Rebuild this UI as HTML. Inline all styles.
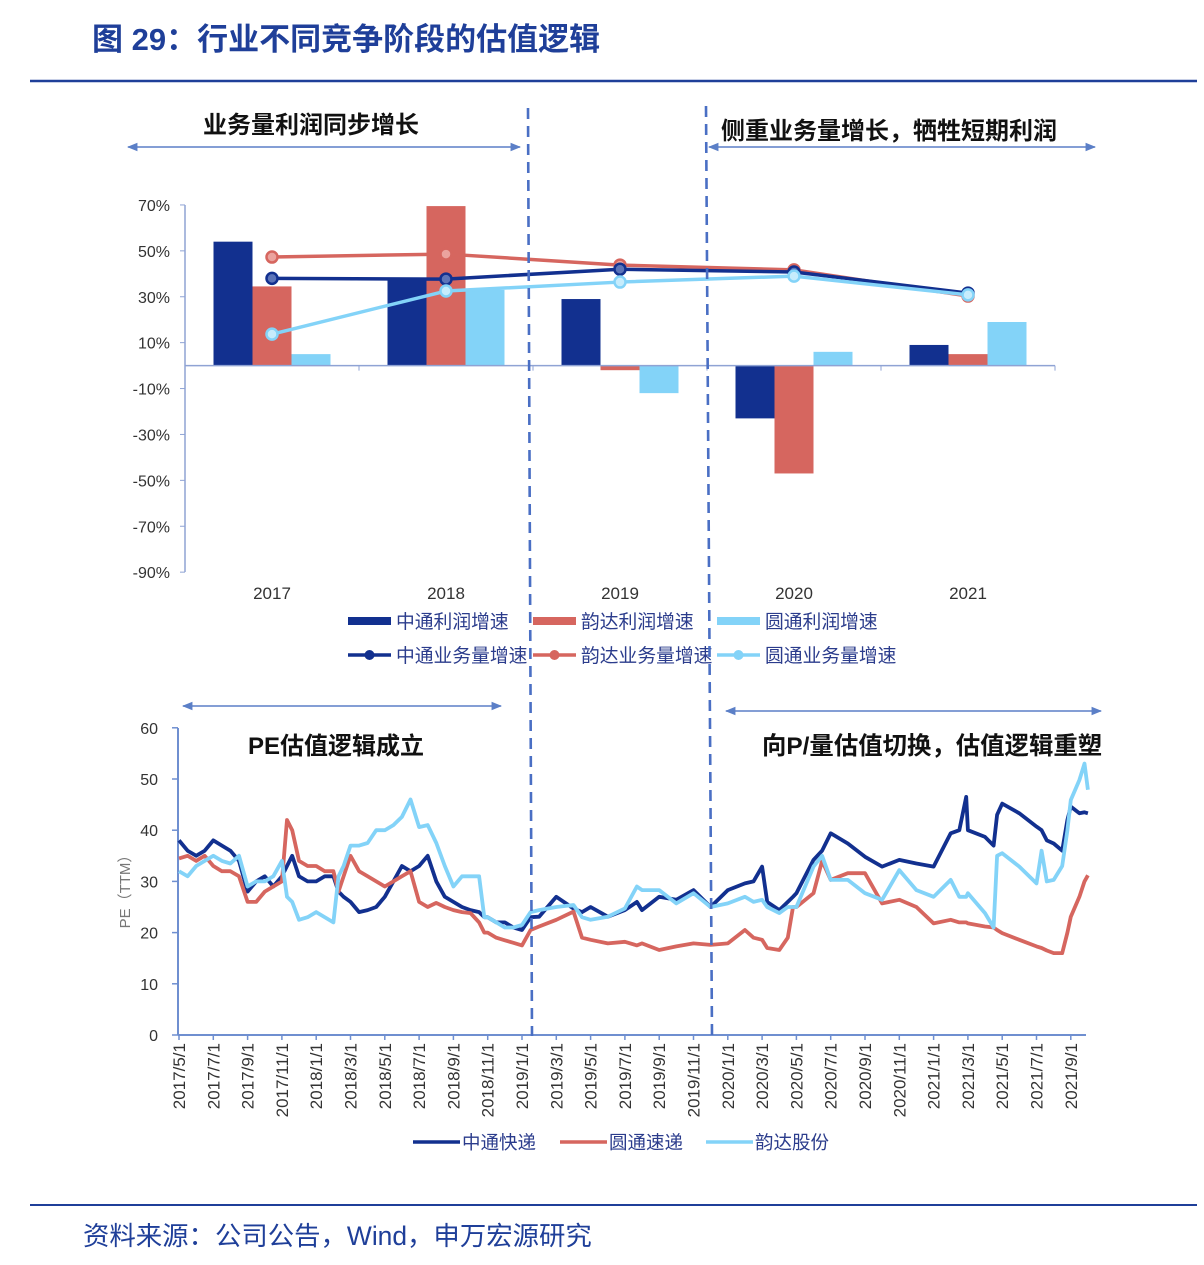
<!DOCTYPE html>
<html><head><meta charset="utf-8">
<style>
html,body{margin:0;padding:0;background:#fff;}
body{width:1204px;height:1265px;overflow:hidden;font-family:"Liberation Sans","Noto Sans CJK SC",sans-serif;}
svg{display:block;}
</style></head>
<body>
<svg id="chart" width="1204" height="1265" viewBox="0 0 1204 1265" xmlns="http://www.w3.org/2000/svg" font-family="Liberation Sans, Noto Sans CJK SC, sans-serif">
<defs>
<marker id="ah" viewBox="0 0 10 10" refX="9" refY="5" markerWidth="7" markerHeight="7" orient="auto-start-reverse"><path d="M0,1 L10,5 L0,9 z" fill="#5b7fc7"/></marker>
</defs>
<text x="92" y="50" font-size="31" font-weight="bold" fill="#1f3f99">图 29：行业不同竞争阶段的估值逻辑</text>
<line x1="30" y1="81" x2="1197" y2="81" stroke="#1f3f99" stroke-width="2.5"/>
<line x1="30" y1="1205" x2="1197" y2="1205" stroke="#1f3f99" stroke-width="2"/>
<text x="83" y="1245" font-size="26.4" fill="#1f3f99">资料来源：公司公告，Wind，申万宏源研究</text>

<g>
<line x1="128" y1="147" x2="520" y2="147" stroke="#5b7fc7" stroke-width="1.5" marker-start="url(#ah)" marker-end="url(#ah)"/>
<line x1="709" y1="147" x2="1095" y2="147" stroke="#5b7fc7" stroke-width="1.5" marker-start="url(#ah)" marker-end="url(#ah)"/>
<line x1="183" y1="706" x2="501" y2="706" stroke="#5b7fc7" stroke-width="1.5" marker-start="url(#ah)" marker-end="url(#ah)"/>
<line x1="726" y1="711" x2="1101" y2="711" stroke="#5b7fc7" stroke-width="1.5" marker-start="url(#ah)" marker-end="url(#ah)"/>
<text x="203" y="133" font-size="24" font-weight="bold" fill="#111">业务量利润同步增长</text>
<text x="721" y="139" font-size="24" font-weight="bold" fill="#111">侧重业务量增长，牺牲短期利润</text>
<text x="248" y="754" font-size="24" font-weight="bold" fill="#111">PE估值逻辑成立</text>
<text x="762" y="754" font-size="24.4" font-weight="bold" fill="#111">向P/量估值切换，估值逻辑重塑</text>
</g>

<g id="topchart"></g>
<g id="botchart"></g>

<line x1="528" y1="108" x2="532" y2="1036" stroke="#4a6fc4" stroke-width="2.6" stroke-dasharray="11,7"/>
<line x1="706" y1="106" x2="712" y2="1036" stroke="#4a6fc4" stroke-width="2.6" stroke-dasharray="11,7"/>
</svg>
<script>
// ---------- top chart data ----------
const years = ['2017','2018','2019','2020','2021'];
const ztProfit = [54, 38, 29, -23, 9];
const ydProfit = [34.5, 69.5, -2, -47, 5];
const ytProfit = [5, 33, -12, 6, 19];
const ztVolume = [38, 37.7, 42, 40.8, 31.6];
const ydVolume = [47.3, 48.6, 43.8, 41.7, 30.3];
const ytVolume = [13.7, 32.5, 36.4, 39, 30.8];
const pctTicks = [70, 50, 30, 10, -10, -30, -50, -70, -90];

// ---------- bottom chart data ----------
const monthLabels = ['2017/5/1','2017/7/1','2017/9/1','2017/11/1','2018/1/1','2018/3/1','2018/5/1','2018/7/1','2018/9/1','2018/11/1','2019/1/1','2019/3/1','2019/5/1','2019/7/1','2019/9/1','2019/11/1','2020/1/1','2020/3/1','2020/5/1','2020/7/1','2020/9/1','2020/11/1','2021/1/1','2021/3/1','2021/5/1','2021/7/1','2021/9/1'];
const peTicks = [0, 10, 20, 30, 40, 50, 60];
const months = [0,0.5,1,1.5,2,2.5,3,3.5,4,4.5,5,5.5,6,6.3,6.6,7,7.5,8,8.5,9,9.3,9.6,10,10.5,11,11.5,12,12.5,13,13.5,14,14.5,15,15.5,16,16.5,17,17.5,17.8,18,18.5,19,19.5,20,20.5,21,22,23,23.5,24,25,26,26.7,27,28,29,30,31,32,33,33.5,34,34.3,35,35.5,35.8,36,37,37.5,38,39,40,41,42,43,44,45,45.5,45.9,46,47,47.5,47.7,48,49,50,50.3,50.6,51,51.5,51.8,52,52.5,52.8,53];
const zto = [38,36,35,36,38,37,36,34,28,30,31,29,31,33,35,31,30,30,31,31,28,27,26,24,24.4,25,27,30,33,32,33,35,30,27,26,25,24.4,24,23,23,22,22,21,20.5,23,23.1,27,24.7,24,25,23.1,24.4,26,24.4,27,26.4,28.3,25,28.3,29.6,30,32.9,26,24.4,26,27,27.7,34.2,36,39.4,37.4,34.8,32.9,34.2,33.5,32.9,39.4,40,46.5,40,38.7,37,43,45.2,43.3,40.7,40,38,37.4,36,42,44.6,43.3,43.5,43.3];
const yto = [34.5,35,34,35,33,32,32,31,26,26,28,29,30,42,40,34,33,33,32,32,28,31,35,32,31,30,29,30,31,32,26,25,25.8,25,24.4,24,23.8,22,20,20,19,18.5,18,17.5,20.5,21.2,22.5,24.1,19,18.6,17.9,18.2,17.5,17.9,16.6,17.3,17.9,17.6,17.9,20.5,19,18.6,17,16.6,19,25,25,27.7,34,30.3,31.6,31.6,25.7,26.4,25,21.8,22.5,22,22,21.8,21.2,21,20.5,19.9,18.6,17.3,17,16.5,16,16,20,23.1,27,30,31.2];
const yunda = [32,31,33,34,35,34,33.5,35,29,30,30,31,34,27,26,22.5,23,24,23,22,31,33,37,37,37.5,40,40,41,42.6,46,40.6,41,37.5,33,29,31,31,31,23,23,22,21,21,21.5,24,24.4,25,25.4,23,22.5,23.1,24.7,29,28.3,28.3,25.7,27.7,25,25.7,27,26,26.4,25,23.8,25,25,25,32.9,35,30.3,30.3,27.7,26.4,32.2,28.3,27,30.3,27,27,27.7,23.8,21,35,35.5,32.9,29.6,36,30,30.3,33,40,45.9,49.8,53,47.9];

const NS = 'http://www.w3.org/2000/svg';
function mk(tag, attrs, parent, text){
  const e = document.createElementNS(NS, tag);
  for (const k in attrs) e.setAttribute(k, attrs[k]);
  if (text !== undefined) e.textContent = text;
  parent.appendChild(e);
  return e;
}

// ---------- top chart ----------
const topG = document.getElementById('topchart');
const tY0 = 365.6, tK = 2.295;
const ty = v => tY0 - v * tK;
const groupW = 174;
const tx = i => 185 + groupW * (i + 0.5);
const colors = {zt:'#12308f', yd:'#d6665f', yt:'#83d3f8'};
const tints = {zt:'#5c74b8', yd:'#eba39e', yt:'#c6ecfc'};

let ax = mk('line', {x1:185,y1:205,x2:185,y2:572,stroke:'#8fa3d4','stroke-width':1.5}, topG);


pctTicks.forEach(t => {
  const lb = mk('text', {x:170,y:ty(t)+6,'font-size':16,'text-anchor':'end',fill:'#333'}, topG, t + '%');
  
  
  const tk = mk('line', {x1:180,y1:ty(t),x2:185,y2:ty(t),stroke:'#8fa3d4','stroke-width':1}, topG);
  
  
});

const barW = 39;
const series = [['zt', ztProfit, -1], ['yd', ydProfit, 0], ['yt', ytProfit, 1]];
series.forEach(([k, vals, off]) => {
  vals.forEach((v, i) => {
    const cx = tx(i) + off * barW;
    const y1 = ty(Math.max(v, 0)), y2 = ty(Math.min(v, 0));
    const r = mk('rect', {x:cx - barW/2, y:y1, width:barW, height:Math.max(y2 - y1, 0.5), fill:colors[k]}, topG);
    
    
  });
});

let xa = mk('line', {x1:185,y1:tY0,x2:1055,y2:tY0,stroke:'#8fa3d4','stroke-width':1.5}, topG);


for (let i = 0; i <= years.length; i++) {
  const tk = mk('line', {x1:185 + groupW*i, y1:tY0, x2:185 + groupW*i, y2:tY0 + 5, stroke:'#8fa3d4','stroke-width':1}, topG);
  
  
}
years.forEach((yr, i) => {
  const lb = mk('text', {x:tx(i), y:599, 'font-size':17, 'text-anchor':'middle', fill:'#333'}, topG, yr);
  
  
});

const lines = [['yd', ydVolume], ['zt', ztVolume], ['yt', ytVolume]];
lines.forEach(([k, vals]) => {
  const pts = vals.map((v, i) => tx(i) + ',' + ty(v)).join(' ');
  const pl = mk('polyline', {points:pts, fill:'none', stroke:colors[k], 'stroke-width':3.5, 'stroke-linejoin':'round'}, topG);
  
  
  vals.forEach((v, i) => {
    const c = mk('circle', {cx:tx(i), cy:ty(v), r:5.5, fill:tints[k], stroke:colors[k], 'stroke-width':2.5}, topG);
    
    
  });
});

const legTop = [
  [348, 621, 'bar', 'zt', '中通利润增速'], [533, 621, 'bar', 'yd', '韵达利润增速'], [717, 621, 'bar', 'yt', '圆通利润增速'],
  [348, 655, 'line', 'zt', '中通业务量增速'], [533, 655, 'line', 'yd', '韵达业务量增速'], [717, 655, 'line', 'yt', '圆通业务量增速']
];
legTop.forEach(([x, y, t, k, label]) => {
  const g = mk('g', {}, topG);
  
  
  if (t === 'bar') {
    mk('rect', {x:x, y:y - 4, width:43, height:8, fill:colors[k]}, g);
  } else {
    mk('line', {x1:x, y1:y, x2:x + 43, y2:y, stroke:colors[k], 'stroke-width':3.5}, g);
    mk('circle', {cx:x + 21.5, cy:y, r:5, fill:colors[k]}, g);
  }
  mk('text', {x:x + 48, y:y + 7, 'font-size':18.8, fill:'#2b3c8c'}, g, label);
});

// ---------- bottom chart ----------
const botG = document.getElementById('botchart');
const bY0 = 1035, bK = 5.12;
const by = v => bY0 - v * bK;
const bx = m => 179 + 17.15 * m;
let bya = mk('line', {x1:178, y1:728, x2:178, y2:bY0, stroke:'#6f8fd0', 'stroke-width':2}, botG);


peTicks.forEach(t => {
  const lb = mk('text', {x:158, y:by(t) + 6, 'font-size':16, 'text-anchor':'end', fill:'#333'}, botG, t);
  
  
  const tk = mk('line', {x1:172, y1:by(t), x2:178, y2:by(t), stroke:'#6f8fd0', 'stroke-width':1.5}, botG);
  
  
});
const yTitle = mk('text', {x:0, y:0, 'font-size':15, fill:'#777', 'text-anchor':'middle', transform:'translate(130,888) rotate(-90)'}, botG, 'PE（TTM）');



let bxa = mk('line', {x1:178, y1:bY0, x2:1086, y2:bY0, stroke:'#6f8fd0', 'stroke-width':2}, botG);


monthLabels.forEach((lab, i) => {
  const x = bx(i * 2);
  const tk = mk('line', {x1:x, y1:bY0, x2:x, y2:bY0 + 5, stroke:'#6f8fd0', 'stroke-width':1.5}, botG);
  
  
  const lb = mk('text', {x:0, y:0, 'font-size':17, 'text-anchor':'end', fill:'#333', transform:'translate(' + (x + 6) + ',' + (bY0 + 8) + ') rotate(-90)'}, botG, lab);
  
  
});

const peSeries = [['zto', zto, '#12308f'], ['yto', yto, '#d6665f'], ['yunda', yunda, '#83d3f8']];
peSeries.forEach(([k, vals, c]) => {
  const pts = vals.map((v, i) => bx(months[i]).toFixed(1) + ',' + by(v).toFixed(1)).join(' ');
  const pl = mk('polyline', {points:pts, fill:'none', stroke:c, 'stroke-width':3.8, 'stroke-linejoin':'round'}, botG);
  
  
});

const legBot = [[413, '#12308f', '中通快递', 'zto'], [560, '#d6665f', '圆通速递', 'yto'], [706, '#83d3f8', '韵达股份', 'yunda']];
legBot.forEach(([x, c, label, k]) => {
  const g = mk('g', {}, botG);
  
  
  mk('line', {x1:x, y1:1142, x2:x + 47, y2:1142, stroke:c, 'stroke-width':3.5}, g);
  mk('text', {x:x + 49, y:1149, 'font-size':18.5, fill:'#2b3c8c'}, g, label);
});
</script>
</body></html>
